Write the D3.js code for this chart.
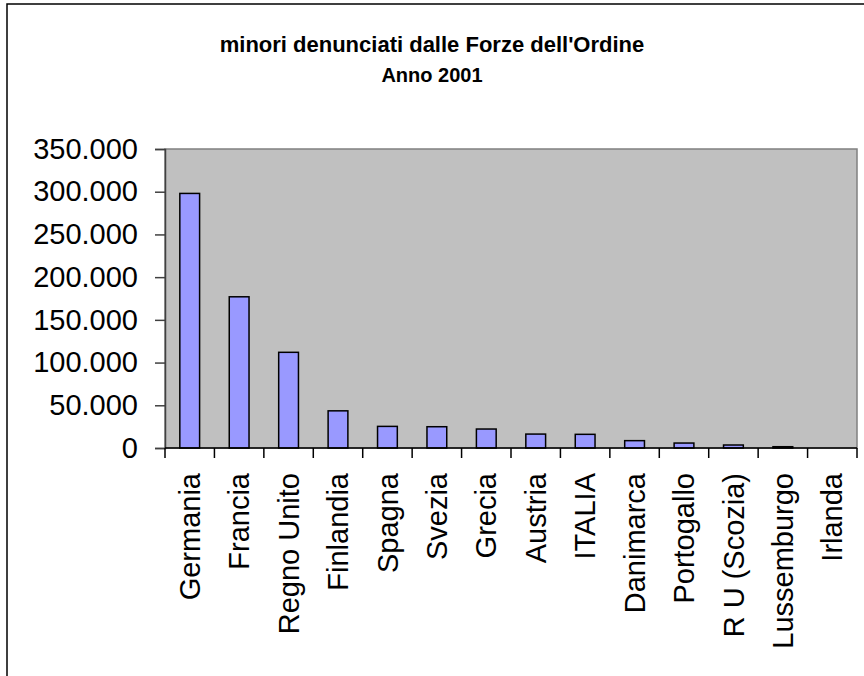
<!DOCTYPE html>
<html>
<head>
<meta charset="utf-8">
<script src="https://cdn.jsdelivr.net/npm/d3@7"></script>
<style>
  body { margin: 0; background: #fff; }
  svg { display: block; font-family: Arial, "Liberation Sans", sans-serif; }
</style>
</head>
<body>
<svg></svg>
<script>
let titleLines = ["minori denunciati dalle Forze dell'Ordine", "Anno 2001"]

let countries = ['Germania','Francia','Regno Unito','Finlandia','Spagna','Svezia','Grecia',
                 'Austria','ITALIA','Danimarca','Portogallo','R U (Scozia)','Lussemburgo','Irlanda']
let minors = [298000,177000,112000,43500,25300,24900,22200,16300,16000,8600,5800,3500,1500,0]

let yTicks = [0,50000,100000,150000,200000,250000,300000,350000]

let width = 864
let height = 676
let plotLeft = 165
let plotRight = 857
let plotTop = 149
let plotBottom = 448

let svg = d3.select('svg')

let itFormat = d3.formatLocale({decimal: ',', thousands: '.', grouping: [3], currency: ['€','']}).format(',d')

let xScale
let yScale

let drawCanvas = () => {
    svg.attr('width', width)
       .attr('height', height)

    // outer chart border (runs off the right and bottom edge)
    svg.append('rect')
       .attr('x', 7)
       .attr('y', 4)
       .attr('width', width + 20)
       .attr('height', height + 20)
       .attr('fill', '#fff')
       .attr('stroke', '#000')
       .attr('stroke-width', 1.5)

    svg.append('g')
       .selectAll('text')
       .data(titleLines)
       .enter()
       .append('text')
       .attr('x', 432)
       .attr('y', (d, i) => 52 + i * 30)
       .attr('text-anchor', 'middle')
       .attr('font-weight', 'bold')
       .attr('font-size', (d, i) => i == 0 ? 22 : 20)
       .text((d) => d)
}

let generateScales = () => {
    xScale = d3.scaleBand()
               .domain(countries)
               .range([plotLeft, plotRight])
               .paddingInner(0.6)
               .paddingOuter(0.3)
    yScale = d3.scaleLinear()
               .domain([0, 350000])
               .range([plotBottom, plotTop])
}

let drawPlotArea = () => {
    svg.append('rect')
       .attr('x', plotLeft)
       .attr('y', plotTop)
       .attr('width', plotRight - plotLeft)
       .attr('height', plotBottom - plotTop)
       .attr('fill', '#c0c0c0')
       .attr('stroke', '#808080')
       .attr('stroke-width', 1.5)
}

let drawAxes = () => {
    let yAxis = d3.axisLeft(yScale)
                  .tickValues(yTicks)
                  .tickFormat(itFormat)
                  .tickSize(10)
                  .tickPadding(17)

    let gy = svg.append('g')
       .attr('transform', 'translate(' + plotLeft + ',0)')
       .call(yAxis)
    gy.select('.domain').attr('stroke', '#404040').attr('stroke-width', 1.5)
    gy.selectAll('.tick line').attr('stroke', '#404040').attr('stroke-width', 1.5)
    gy.selectAll('text')
      .attr('font-size', 29)
      .attr('fill', '#000')
      .attr('font-family', 'Arial, "Liberation Sans", sans-serif')

    // category boundary ticks
    let step = xScale.step()
    let bounds = countries.map((c) => xScale(c) - step * 0.3).concat([plotRight])
    svg.append('g')
       .selectAll('line')
       .data(bounds)
       .enter()
       .append('line')
       .attr('x1', (d) => d)
       .attr('x2', (d) => d)
       .attr('y1', plotBottom)
       .attr('y2', plotBottom + 10)
       .attr('stroke', '#000')
       .attr('stroke-width', 1.5)

    svg.append('line')
       .attr('x1', plotLeft)
       .attr('x2', plotRight)
       .attr('y1', plotBottom)
       .attr('y2', plotBottom)
       .attr('stroke', '#000')
       .attr('stroke-width', 1.5)

    svg.append('g')
       .selectAll('text')
       .data(countries)
       .enter()
       .append('text')
       .attr('transform', (d) => 'translate(' + (xScale(d) + xScale.bandwidth() / 2) + ',' + (plotBottom + 25) + ') rotate(-90)')
       .attr('text-anchor', 'end')
       .attr('dy', '0.35em')
       .attr('font-size', 29)
       .text((d) => d)
}

let drawBars = () => {
    svg.append('g')
       .selectAll('rect')
       .data(countries)
       .enter()
       .append('rect')
       .attr('x', (d) => xScale(d))
       .attr('width', xScale.bandwidth())
       .attr('y', (d, i) => yScale(minors[i]))
       .attr('height', (d, i) => plotBottom - yScale(minors[i]))
       .attr('fill', '#9999ff')
       .attr('stroke', '#000')
       .attr('stroke-width', 1.5)
}

drawCanvas()
generateScales()
drawPlotArea()
drawBars()
drawAxes()
</script>
</body>
</html>
